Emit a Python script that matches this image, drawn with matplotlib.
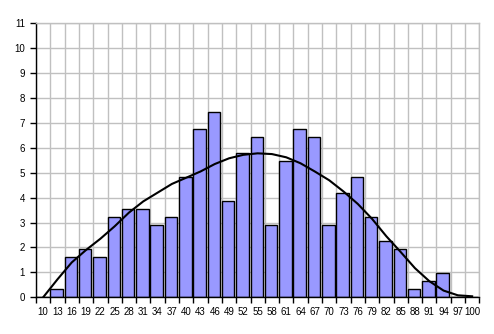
import numpy as np
import matplotlib.pyplot as plt

# categories on the x axis
categories = [10, 13, 16, 19, 22, 25, 28, 31, 34, 37, 40, 43, 46, 49, 52, 55,
              58, 61, 64, 67, 70, 73, 76, 79, 82, 85, 88, 91, 94, 97, 100]
# bar heights (percent)
bar_values = [0, 0.32, 1.61, 1.94, 1.61, 3.23, 3.55, 3.55, 2.90, 3.23, 4.84,
              6.77, 7.42, 3.87, 5.81, 6.45, 2.90, 5.48, 6.77, 6.45, 2.90, 4.19,
              4.84, 3.23, 2.26, 1.94, 0.32, 0.65, 0.97, 0, 0]
# fitted curve read at each category
curve_values = [0.0, 0.72, 1.4, 1.9, 2.35, 2.85, 3.4, 3.85, 4.2, 4.55, 4.8,
                5.05, 5.35, 5.58, 5.72, 5.78, 5.75, 5.62, 5.38, 5.05, 4.7,
                4.25, 3.75, 3.15, 2.45, 1.82, 1.17, 0.65, 0.27, 0.08, 0.04]
y_ticks = list(range(0, 12))

plt.rcParams['font.family'] = ['Liberation Sans', 'DejaVu Sans']

fig = plt.figure(figsize=(4.94, 3.34), dpi=100)
ax = fig.add_axes([36/494, 1 - 297.3/334, 443.3/494, 274/334])

n = len(categories)
idx = np.arange(n)
grid_c = '#c0c0c0'

ax.bar(idx - 0.5, bar_values, width=0.88, align='edge', color='#9999ff',
       edgecolor='black', linewidth=1.0, zorder=2)
ax.plot(idx, curve_values, color='black', linewidth=1.5, zorder=3)

ax.set_xlim(-0.5, n - 0.5)
ax.set_ylim(0, 11)

# boundaries carry ticks and grid, centers carry labels
ax.set_xticks(np.arange(n + 1) - 0.5)
ax.set_xticklabels([])
ax.set_xticks(idx, minor=True)
ax.set_xticklabels([str(c) for c in categories], minor=True, fontsize=7)
ax.tick_params(axis='x', which='major', direction='out', length=4, width=1.0)
ax.tick_params(axis='x', which='minor', length=0, pad=7)

ax.set_yticks(y_ticks)
ax.set_yticklabels([str(v) for v in y_ticks], fontsize=7)
ax.tick_params(axis='y', direction='out', length=4, width=1.0, pad=4)

ax.grid(True, which='major', color=grid_c, linewidth=1.0, zorder=0)
ax.set_axisbelow(True)

ax.spines['left'].set_color('black')
ax.spines['bottom'].set_color('black')
ax.spines['left'].set_linewidth(1.0)
ax.spines['bottom'].set_linewidth(1.0)
ax.spines['top'].set_color(grid_c)
ax.spines['right'].set_color(grid_c)
ax.spines['top'].set_linewidth(1.0)
ax.spines['right'].set_linewidth(1.0)

fig.savefig('out.png', dpi=100)
